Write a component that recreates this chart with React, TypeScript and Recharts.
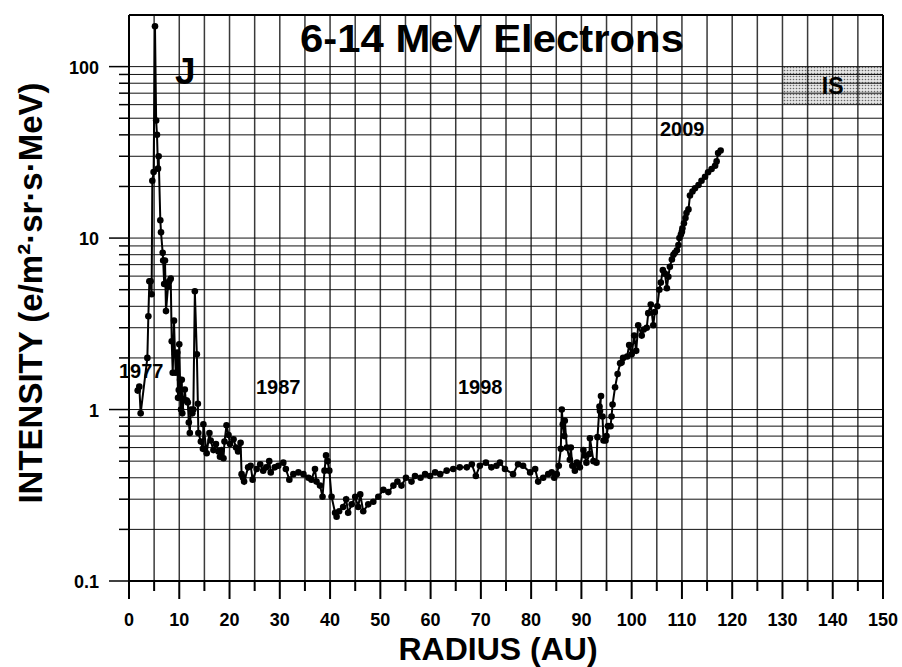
import React from "react"
import {
  CartesianGrid,
  Line,
  LineChart,
  ReferenceArea,
  ReferenceLine,
  XAxis,
  YAxis,
} from "recharts"

// Voyager 1, 6-14 MeV electrons
const radius = [
  1.73, 2.05, 2.32, 3.65, 3.85, 4.05, 4.3, 4.5, 4.64, 4.9, 5.17, 5.4, 5.57,
  5.77, 5.9, 6.23, 6.37, 6.7, 6.8, 7.0, 7.16, 7.36, 7.76, 8.0, 8.3, 8.5, 8.7,
  8.95, 9.15, 9.3, 9.6, 9.75, 9.9, 10.0, 10.15, 10.35, 10.5, 10.6, 11.1, 11.3,
  11.5, 11.7, 11.9, 12.1, 12.3, 12.6, 12.8, 13.1, 13.5, 13.7, 13.8, 14.3, 14.7,
  14.8, 15.45, 16.0, 16.25, 16.8, 17.3, 17.8, 18.1, 18.4, 18.8, 19.0, 19.4,
  19.8, 20.1, 20.8, 21.3, 21.7, 22.2, 22.4, 22.7, 22.9, 23.7, 24.2, 24.6, 25.4,
  26.1, 26.7, 27.3, 27.9, 28.2, 29.0, 29.7, 30.7, 31.2, 31.9, 32.7, 33.7, 34.7,
  35.7, 36.3, 37.0, 37.3, 38.0, 38.5, 38.9, 39.2, 39.5, 39.85, 40.3, 41.0, 41.3,
  41.8, 42.6, 43.2, 43.6, 44.3, 45.0, 45.6, 46.0, 46.6, 47.6, 48.6, 49.6, 50.6,
  51.6, 52.6, 53.4, 54.2, 55.1, 56.2, 56.9, 58.0, 58.9, 59.9, 60.9, 61.9, 63.2,
  64.5, 65.8, 67.2, 68.2, 69.0, 69.8, 71.0, 72.1, 73.1, 73.8, 74.8, 76.4, 77.4,
  78.4, 79.8, 80.8, 81.4, 82.4, 83.4, 84.1, 84.6, 85.1, 85.5, 85.9, 86.1, 86.3,
  86.6, 86.7, 87.1, 87.7, 87.9, 88.2, 88.7, 89.1, 89.7, 90.4, 90.7, 91.0, 91.6,
  91.7, 92.4, 93.0, 93.2, 93.6, 93.9, 93.7, 94.2, 94.4, 94.8, 95.0, 95.3, 95.8,
  96.0, 96.2, 96.7, 97.2, 97.7, 98.0, 98.3, 99.1, 99.5, 100.0, 100.5, 100.9,
  101.3, 102.0, 102.4, 103.0, 103.3, 103.8, 104.3, 104.6, 105.1, 105.5, 105.8,
  106.2, 106.6, 107.0, 107.3, 107.6, 108.0, 108.3, 108.6, 109.0, 109.3, 109.5,
  109.8, 110.0, 110.1, 110.4, 110.7, 110.9, 111.3, 111.6, 112.1, 112.6, 113.3,
  113.9, 114.6, 115.2, 115.9, 116.6, 116.9, 117.2, 117.7,
]

const intensity = [
  1.29, 1.36, 0.95, 2.0, 3.5, 5.6, 5.6, 4.7, 21.6, 24.3, 172, 48.5, 40, 25.4,
  30, 12.7, 10.8, 8.2, 7.4, 5.4, 7.4, 3.75, 5.2, 5.6, 5.8, 2.5, 1.64, 3.3, 2.1,
  1.64, 2.15, 1.17, 1.3, 2.4, 1.49, 1.0, 1.49, 0.95, 1.31, 1.13, 1.13, 1.1,
  0.84, 0.73, 1.0, 0.95, 1.0, 4.9, 2.1, 1.08, 0.73, 0.65, 0.59, 0.82, 0.556,
  0.73, 0.66, 0.58, 0.63, 0.57, 0.53, 0.58, 0.52, 0.65, 0.81, 0.71, 0.63, 0.67,
  0.6, 0.57, 0.64, 0.42, 0.4, 0.38, 0.46, 0.47, 0.39, 0.45, 0.48, 0.44, 0.46,
  0.5, 0.43, 0.46, 0.47, 0.49, 0.45, 0.39, 0.42, 0.43, 0.42, 0.4, 0.39, 0.45,
  0.38, 0.36, 0.31, 0.44, 0.54, 0.5, 0.44, 0.31, 0.25, 0.237, 0.255, 0.27, 0.3,
  0.25, 0.28, 0.31, 0.27, 0.32, 0.255, 0.28, 0.29, 0.31, 0.34, 0.33, 0.36,
  0.38, 0.36, 0.4, 0.38, 0.41, 0.4, 0.42, 0.41, 0.43, 0.42, 0.44, 0.45, 0.46,
  0.46, 0.48, 0.41, 0.47, 0.49, 0.46, 0.47, 0.49, 0.45, 0.42, 0.48, 0.47, 0.43,
  0.45, 0.38, 0.4, 0.42, 0.43, 0.4, 0.42, 0.47, 0.59, 1.0, 0.82, 0.7, 0.86,
  0.6, 0.51, 0.6, 0.47, 0.44, 0.49, 0.46, 0.58, 0.54, 0.49, 0.55, 0.68, 0.5,
  0.49, 0.69, 1.04, 1.2, 0.98, 0.91, 0.66, 0.66, 0.7, 0.8, 0.8, 0.91, 1.07,
  1.35, 1.61, 1.86, 1.88, 2.0, 2.04, 2.38, 2.1, 2.7, 2.2, 3.1, 2.7, 2.93, 3.0,
  3.65, 4.1, 3.1, 3.7, 4.0, 5.0, 5.5, 6.5, 6.2, 5.1, 5.95, 6.8, 7.5, 8.0, 8.2,
  8.5, 9.1, 10, 10.5, 10.9, 11.4, 12.2, 13.1, 14.0, 14.7, 17.7, 18.7, 19.5,
  20.4, 21.6, 22.8, 24.2, 25.3, 26.4, 28, 31.3, 32.4,
]

const xTicks = [
  0, 5, 10, 15, 20, 25, 30, 35, 40, 45, 50, 55, 60, 65, 70, 75, 80, 85, 90, 95,
  100, 105, 110, 115, 120, 125, 130, 135, 140, 145, 150,
]
const yTicks = [
  0.1, 0.2, 0.3, 0.4, 0.5, 0.6, 0.7, 0.8, 0.9, 1, 2, 3, 4, 5, 6, 7, 8, 9, 10,
  20, 30, 40, 50, 60, 70, 80, 90, 100,
]
const yMajor = [0.1, 1, 10, 100]
const yearLabels = ["1977", "1987", "1998", "2009"]

const data = radius.map((r, i) => ({ r, v: intensity[i] }))

const FONT = "'Liberation Sans', Arial, sans-serif"
const bold = (size: number) => ({
  fontFamily: FONT,
  fontWeight: 700,
  fontSize: size,
  fill: "#000",
})

const XTick = (props: any) => {
  const { x, y, payload } = props
  const major = payload.value % 10 === 0
  return (
    <g>
      <line x1={x} x2={x} y1={y} y2={y + (major ? 18 : 10)} stroke="#000" strokeWidth={2} />
      {major && (
        <text x={x} y={y + 45} textAnchor="middle" style={bold(18)}>
          {payload.value}
        </text>
      )}
    </g>
  )
}

const YTick = (props: any) => {
  const { x, y, payload } = props
  const major = yMajor.includes(payload.value)
  return (
    <g>
      <line x1={x - (major ? 20 : 10)} x2={x} y1={y} y2={y} stroke="#000" strokeWidth={1.5} />
      {major && (
        <text x={x - 30} y={y + 7} textAnchor="end" style={bold(18)}>
          {payload.value}
        </text>
      )}
    </g>
  )
}

export default function App() {
  return (
    <div style={{ position: "absolute", left: 0, top: 0, background: "#fff" }}>
      <LineChart
        width={902}
        height={667}
        data={data}
        margin={{ top: 15, right: 19, bottom: 0, left: 0 }}
      >
        <defs>
          <pattern id="isDots" width="3" height="3" patternUnits="userSpaceOnUse">
            <rect width="3" height="3" fill="rgba(0,0,0,0.1)" />
            <circle cx="1.5" cy="1.5" r="0.8" fill="rgba(0,0,0,0.55)" />
          </pattern>
        </defs>
        <CartesianGrid horizontal={false} stroke="#3a3a3a" strokeWidth={1.5} />
        <CartesianGrid vertical={false} stroke="#111" strokeWidth={1} />
        <XAxis
          type="number"
          dataKey="r"
          domain={[0, 150]}
          ticks={xTicks}
          interval={0}
          height={86}
          tickSize={0}
          tickMargin={0}
          tickLine={false}
          axisLine={{ stroke: "#000", strokeWidth: 2 }}
          tick={<XTick />}
        />
        <YAxis
          type="number"
          scale="log"
          domain={[0.1, 200]}
          allowDataOverflow
          ticks={yTicks}
          interval={0}
          width={129}
          tickSize={0}
          tickMargin={0}
          tickLine={false}
          axisLine={{ stroke: "#000", strokeWidth: 2 }}
          tick={<YTick />}
        />
        <ReferenceArea
          x1={130}
          x2={150}
          y1={60}
          y2={100}
          fill="url(#isDots)"
          fillOpacity={1}
          stroke="none"
          label={{
            value: "IS",
            position: "center",
            fill: "#000",
            fontSize: 23,
            fontWeight: 700,
            fontFamily: FONT,
          }}
        />
        <ReferenceLine y={200} stroke="#000" strokeWidth={2} />
        <ReferenceLine x={150} stroke="#000" strokeWidth={2} />
        <Line
          type="linear"
          dataKey="v"
          stroke="#000"
          strokeWidth={2}
          dot={{ r: 3.3, fill: "#000", stroke: "none" }}
          isAnimationActive={false}
        />
        <text x={300} y={52} style={bold(39)} textLength={384} lengthAdjust="spacingAndGlyphs">
          6-14 MeV Electrons
        </text>
        <text x={175} y={84} style={bold(37)}>J</text>
        <text x={119} y={378} style={bold(20)}>{yearLabels[0]}</text>
        <text x={256} y={394} style={bold(20)}>{yearLabels[1]}</text>
        <text x={458} y={394} style={bold(20)}>{yearLabels[2]}</text>
        <text x={660} y={136} style={bold(20)}>{yearLabels[3]}</text>
        <text x={498} y={660} textAnchor="middle" style={bold(32)}>
          RADIUS (AU)
        </text>
        <text
          x={42}
          y={293}
          textAnchor="middle"
          transform="rotate(-90 42 293)"
          style={bold(33)}
        >
          INTENSITY (e/m²·sr·s·MeV)
        </text>
      </LineChart>
    </div>
  )
}
